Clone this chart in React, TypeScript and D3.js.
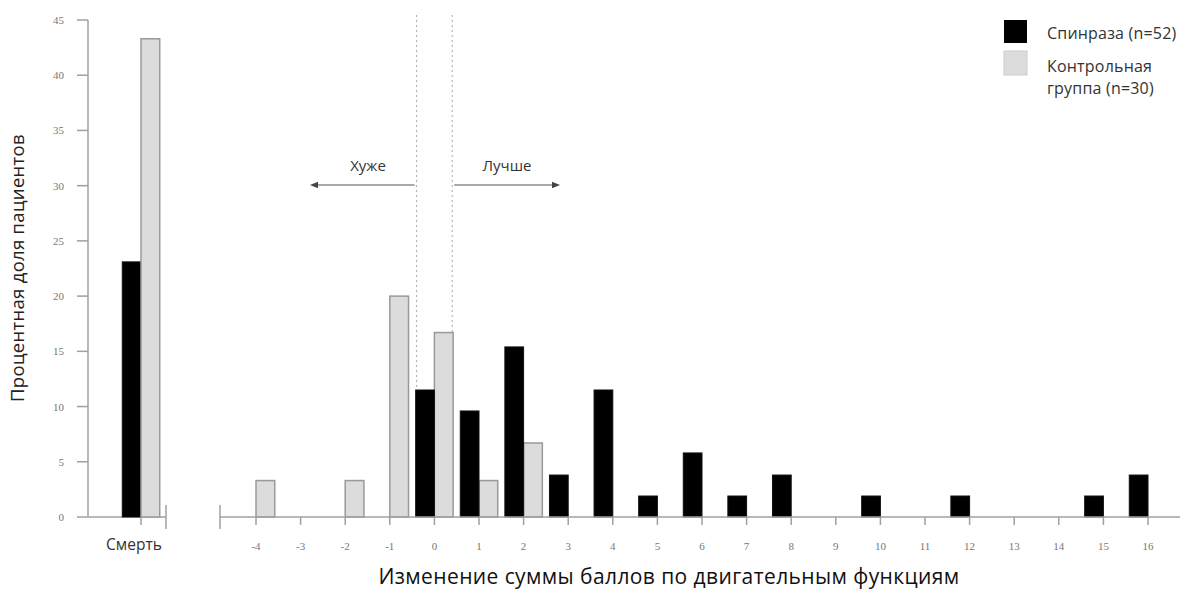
import React from "react";
import * as d3 from "d3";

// ---- data ----
const scoreTicks = [-4, -3, -2, -1, 0, 1, 2, 3, 4, 5, 6, 7, 8, 9, 10, 11, 12, 13, 14, 15, 16];
const spinrazaChange = [
  { x: 0, v: 11.5 }, { x: 1, v: 9.6 }, { x: 2, v: 15.4 }, { x: 3, v: 3.8 },
  { x: 4, v: 11.5 }, { x: 5, v: 1.9 }, { x: 6, v: 5.8 }, { x: 7, v: 1.9 },
  { x: 8, v: 3.8 }, { x: 10, v: 1.9 }, { x: 12, v: 1.9 }, { x: 15, v: 1.9 },
  { x: 16, v: 3.8 },
];
const controlChange = [
  { x: -4, v: 3.3 }, { x: -2, v: 3.3 }, { x: -1, v: 20.0 }, { x: 0, v: 16.7 },
  { x: 1, v: 3.3 }, { x: 2, v: 6.7 },
];
const deathCategory = ["Смерть"];
const deathSpinraza = [23.1];
const deathControl = [43.3];
const yTicks = [0, 5, 10, 15, 20, 25, 30, 35, 40, 45];
const seriesNames = ["Спинраза (n=52)", "Контрольная", "группа (n=30)"];

const W = 1188;
const H = 590;
const BLACK = "#000";
const GRAY_FILL = "#dcdcdc";
const GRAY_STROKE = "#9a9a9a";
const AXIS = "#a0a0a0";
const TICKTXT = "#777";
const SANS = "'Open Sans', 'Noto Sans', sans-serif";
const SERIF = "'Liberation Serif', 'DejaVu Serif', serif";

export default function App() {
  const y = d3.scaleLinear().domain([0, 45]).range([517, 20]);
  const x = d3.scaleLinear().domain([-4, 16]).range([256, 1148]);
  const step = x(1) - x(0);
  const bw = step * 0.42;
  const xl = d3.scalePoint<string>().domain(deathCategory).range([141, 141]);
  const y0 = y(0);

  return (
    <svg width={W} height={H} style={{ position: "absolute", left: 0, top: 0, background: "#fff" }}>
      {/* y axis */}
      <line x1={88} x2={88} y1={y(45)} y2={y0} stroke={AXIS} strokeWidth={1.5} />
      {yTicks.map((t) => (
        <g key={t}>
          <line x1={77} x2={88} y1={y(t)} y2={y(t)} stroke={AXIS} strokeWidth={1.5} />
          <text x={64} y={y(t) + 4} textAnchor="end" fontFamily={SERIF} fontSize={11} fill={TICKTXT}>
            {t}
          </text>
        </g>
      ))}
      <text
        transform={`translate(24,${268}) rotate(-90)`}
        textAnchor="middle"
        fontFamily={SANS}
        fontSize={18.5}
        letterSpacing={0.3}
        fill="#222"
      >
        Процентная доля пациентов
      </text>

      {/* left panel: death */}
      <line x1={88} x2={166} y1={y0} y2={y0} stroke={AXIS} strokeWidth={1.5} />
      <line x1={166} x2={166} y1={y0 - 12} y2={y0 + 12} stroke={AXIS} strokeWidth={1.5} />
      {deathCategory.map((c, i) => (
        <g key={c}>
          <rect x={xl(c)! - bw} y={y(deathSpinraza[i])} width={bw} height={y0 - y(deathSpinraza[i])} fill={BLACK} stroke="#111" />
          <rect x={xl(c)!} y={y(deathControl[i])} width={bw} height={y0 - y(deathControl[i])} fill={GRAY_FILL} stroke={GRAY_STROKE} strokeWidth={1.5} />
          <line x1={xl(c)!} x2={xl(c)!} y1={y0} y2={y0 + 8} stroke={AXIS} strokeWidth={1.5} />
          <text x={xl(c)! - 7} y={y0 + 33} textAnchor="middle" fontFamily={SANS} fontSize={15.5} fill="#333">
            {c}
          </text>
        </g>
      ))}

      {/* dashed guides */}
      {[-0.4, 0.4].map((d) => (
        <line key={d} x1={x(d)} x2={x(d)} y1={15} y2={y0} stroke="#b5b5b5" strokeWidth={1.2} strokeDasharray="2,3" />
      ))}

      {/* right panel bars */}
      {controlChange.map((d) => (
        <rect key={"c" + d.x} x={x(d.x)} y={y(d.v)} width={bw} height={y0 - y(d.v)} fill={GRAY_FILL} stroke={GRAY_STROKE} strokeWidth={1.5} />
      ))}
      {spinrazaChange.map((d) => (
        <rect key={"s" + d.x} x={x(d.x) - bw} y={y(d.v)} width={bw} height={y0 - y(d.v)} fill={BLACK} stroke="#111" />
      ))}

      {/* right axis */}
      <line x1={220} x2={1180} y1={y0} y2={y0} stroke={AXIS} strokeWidth={1.5} />
      <line x1={220} x2={220} y1={y0 - 12} y2={y0 + 12} stroke={AXIS} strokeWidth={1.5} />
      {scoreTicks.map((t) => (
        <g key={t}>
          <line x1={x(t)} x2={x(t)} y1={y0} y2={y0 + 8} stroke={AXIS} strokeWidth={1.5} />
          <text x={x(t)} y={y0 + 33} textAnchor="middle" fontFamily={SERIF} fontSize={11} fill={TICKTXT}>
            {t}
          </text>
        </g>
      ))}
      <text x={669} y={584} textAnchor="middle" fontFamily={SANS} fontSize={21} letterSpacing={0.4} fill="#111">
        Изменение суммы баллов по двигательным функциям
      </text>

      {/* arrows */}
      <defs>
        <marker id="ah" viewBox="0 0 10 10" refX="5" refY="5" markerWidth="4" markerHeight="4" orient="auto-start-reverse">
          <path d="M0,1 L10,5 L0,9 z" fill="#444" />
        </marker>
      </defs>
      <line x1={x(-0.4) - 2} x2={314} y1={185} y2={185} stroke="#aaa" strokeWidth={2} markerEnd="url(#ah)" />
      <line x1={x(0.4) + 2} x2={556} y1={185} y2={185} stroke="#aaa" strokeWidth={2} markerEnd="url(#ah)" />
      <text x={368} y={171} textAnchor="middle" fontFamily={SANS} fontSize={15} fill="#333">Хуже</text>
      <text x={507} y={171} textAnchor="middle" fontFamily={SANS} fontSize={15} fill="#333">Лучше</text>

      {/* legend */}
      <rect x={1004} y={20} width={23} height={23} fill={BLACK} />
      <rect x={1004} y={51} width={23} height={24} fill={GRAY_FILL} stroke="#ccc" />
      <text x={1047} y={39} fontFamily={SANS} fontSize={16} letterSpacing={0.2} fill="#333">{seriesNames[0]}</text>
      <text x={1047} y={72} fontFamily={SANS} fontSize={16} letterSpacing={0.2} fill="#333">{seriesNames[1]}</text>
      <text x={1047} y={94} fontFamily={SANS} fontSize={16} letterSpacing={0.2} fill="#333">{seriesNames[2]}</text>
    </svg>
  );
}
